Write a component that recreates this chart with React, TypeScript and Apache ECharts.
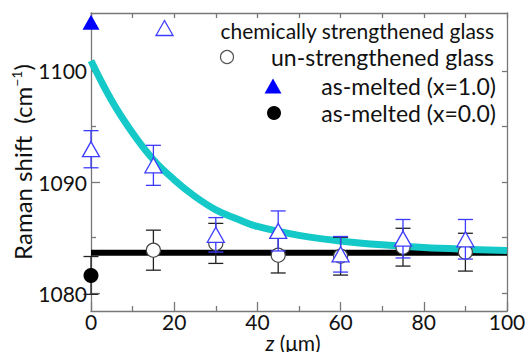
import React, { useEffect, useRef } from "react";
import * as echarts from "echarts";

// chemically strengthened glass (open triangles)
const zStrengthened = [0, 15, 30, 45, 60, 75, 90];
const shiftStrengthened = [1092.95, 1091.5, 1085.25, 1085.6, 1083.5, 1084.9, 1084.85];
const errStrengthened = [1.67, 1.8, 1.55, 1.8, 1.6, 1.73, 1.78];

// un-strengthened glass (open circles)
const zUnstrengthened = [15, 30, 45, 60, 75, 90];
const shiftUnstrengthened = [1083.87, 1084.48, 1083.42, 1083.33, 1084.14, 1083.69];
const errUnstrengthened = [1.8, 1.8, 1.6, 1.7, 1.7, 1.7];

// as-melted points
const zMelted = [0];
const shiftMelted10 = [1104.37];
const shiftMelted00 = [1081.6];
const errMelted00 = [1.7];

// fitted decay curve
const fitZ = [0, 5, 10, 15, 20, 25, 30, 35, 40, 50, 60, 70, 80, 90, 100];
const fitShift = [1100.9, 1097.3, 1094.4, 1092.0, 1090.2, 1088.7, 1087.5, 1086.7, 1086.0, 1085.2, 1084.7, 1084.35, 1084.1, 1083.95, 1083.85];

// flat level for un-strengthened glass
const flatZ = [0, 100];
const flatShift = [1083.63, 1083.63];

const yMajorTicks = [1080, 1090, 1100];
const yMinorTicks = [1085, 1095];

const legendLabels = [
  "chemically strengthened glass",
  "un-strengthened glass",
  "as-melted (x=1.0)",
  "as-melted (x=0.0)",
];

const FONT = "Lato, 'Open Sans', sans-serif";
const BLUE = "#0000ff";
const BLUE_LIGHT = "#3c3cff";
const DARK = "#222222";
const CYAN = "#16c9c9";
const AXIS = "#777777";

const Y_MIN = 1078.4;
const Y_MAX = 1105.2;

function errorBars(xs: number[], ys: number[], errs: number[], color: string, z: number) {
  return {
    type: "custom",
    z,
    clip: false,
    silent: true,
    data: xs.map((x, i) => [x, ys[i], errs[i]]),
    encode: { x: 0, y: 1 },
    renderItem: (_params: any, api: any) => {
      const x = api.value(0);
      const y = api.value(1);
      const e = api.value(2);
      const top = api.coord([x, y + e]);
      const bot = api.coord([x, y - e]);
      const hw = 7.5;
      const style = { stroke: color, lineWidth: 1.3, fill: null };
      return {
        type: "group",
        children: [
          { type: "line", shape: { x1: top[0], y1: top[1], x2: bot[0], y2: bot[1] }, style },
          { type: "line", shape: { x1: top[0] - hw, y1: top[1], x2: top[0] + hw, y2: top[1] }, style },
          { type: "line", shape: { x1: bot[0] - hw, y1: bot[1], x2: bot[0] + hw, y2: bot[1] }, style },
        ],
      };
    },
  };
}

export default function App() {
  const ref = useRef<HTMLDivElement>(null);

  useEffect(() => {
    if (!ref.current) return;
    const chart = echarts.init(ref.current, null, { renderer: "svg" });

    const rowY = [28, 57, 86, 113];
    const textY = [30, 57, 86, 113];
    const textX = [494, 494, 496, 496];
    const textSize = [21, 23, 23, 23];
    const option: any = {
      animation: false,
      backgroundColor: "#ffffff",
      textStyle: { fontFamily: FONT },
      grid: { left: 91, right: 22, top: 13, bottom: 41, containLabel: false, outerBoundsMode: "none" },
      xAxis: [
        {
          type: "value",
          position: "bottom",
          min: 0,
          max: 100,
          interval: 20,
          axisLine: { show: true, lineStyle: { color: AXIS, width: 1.3 } },
          axisTick: { show: true, inside: true, length: 9, lineStyle: { color: AXIS, width: 1.3 } },
          minorTick: { show: true, splitNumber: 2, length: 5, lineStyle: { color: AXIS, width: 1.3 } },
          splitLine: { show: false },
          minorSplitLine: { show: false },
          axisLabel: { fontSize: 21, lineHeight: 17, color: "#111", margin: 2, fontFamily: FONT },
        },
        {
          type: "value",
          position: "top",
          min: 0,
          max: 100,
          interval: 10,
          axisLine: { show: true, lineStyle: { color: AXIS, width: 1.3 } },
          axisTick: { show: true, inside: true, length: 5, lineStyle: { color: AXIS, width: 1.3 } },
          splitLine: { show: false },
          axisLabel: { show: false },
        },
      ],
      yAxis: [
        {
          type: "value",
          position: "left",
          min: Y_MIN,
          max: Y_MAX,
          axisLine: { show: true, lineStyle: { color: AXIS, width: 1.3 } },
          axisTick: {
            show: true,
            inside: true,
            length: 9,
            customValues: yMajorTicks,
            lineStyle: { color: AXIS, width: 1.3 },
          },
          axisLabel: {
            fontSize: 21,
            color: "#111",
            margin: 4,
            fontFamily: FONT,
            customValues: yMajorTicks,
            formatter: (v: number) => String(Math.round(v)),
          },
          splitLine: { show: false },
          name: "Raman shift  (cm{sup|−1})",
          nameLocation: "middle",
          nameGap: 56,
          nameMoveOverlap: false,
          nameRotate: 90,
          nameTextStyle: {
            fontSize: 24,
            color: "#111",
            fontFamily: FONT,
            lineHeight: 26,
            rich: {
              sup: { fontSize: 14, color: "#111", fontFamily: FONT, verticalAlign: "top", lineHeight: 16 },
            },
          },
        },
        {
          type: "value",
          position: "left",
          min: Y_MIN,
          max: Y_MAX,
          axisLine: { show: false },
          axisTick: {
            show: true,
            inside: true,
            length: 5,
            customValues: yMinorTicks,
            lineStyle: { color: AXIS, width: 1.3 },
          },
          axisLabel: { show: false },
          splitLine: { show: false },
        },
        {
          type: "value",
          position: "right",
          min: Y_MIN,
          max: Y_MAX,
          axisLine: { show: true, lineStyle: { color: AXIS, width: 1.3 } },
          axisTick: {
            show: true,
            inside: true,
            length: 5,
            customValues: [...yMajorTicks, ...yMinorTicks],
            lineStyle: { color: AXIS, width: 1.3 },
          },
          axisLabel: { show: false },
          splitLine: { show: false },
        },
      ],
      series: [
        {
          type: "line",
          z: 2,
          data: flatZ.map((x, i) => [x, flatShift[i]]),
          showSymbol: false,
          symbol: "none",
          lineStyle: { color: "#000", width: 6 },
          silent: true,
        },
        {
          type: "line",
          z: 3,
          data: fitZ.map((x, i) => [x, fitShift[i]]),
          smooth: 0.4,
          showSymbol: false,
          symbol: "none",
          lineStyle: { color: CYAN, width: 7 },
          silent: true,
        },
        errorBars(zUnstrengthened, shiftUnstrengthened, errUnstrengthened, DARK, 4),
        errorBars(zMelted, shiftMelted00, errMelted00, DARK, 4),
        {
          type: "scatter",
          z: 5,
          data: zUnstrengthened.map((x, i) => [x, shiftUnstrengthened[i]]),
          symbol: "circle",
          symbolSize: 14,
          itemStyle: { color: "#ffffff", borderColor: "#444", borderWidth: 1.2, opacity: 1 },
        },
        errorBars(zStrengthened, shiftStrengthened, errStrengthened, BLUE_LIGHT, 6),
        {
          type: "scatter",
          z: 7,
          data: zStrengthened.map((x, i) => [x, shiftStrengthened[i]]),
          symbol: "triangle",
          symbolSize: [17, 15],
          itemStyle: { color: "#ffffff", borderColor: BLUE_LIGHT, borderWidth: 1.3, opacity: 1 },
        },
        {
          type: "scatter",
          z: 8,
          clip: false,
          data: zMelted.map((x, i) => [x, shiftMelted10[i]]),
          symbol: "triangle",
          symbolSize: [17, 15],
          itemStyle: { color: BLUE, opacity: 1 },
        },
        {
          type: "scatter",
          z: 8,
          clip: false,
          data: zMelted.map((x, i) => [x, shiftMelted00[i]]),
          symbol: "circle",
          symbolSize: 15,
          itemStyle: { color: "#000", opacity: 1 },
        },
      ],
      graphic: [
        {
          type: "polygon",
          z: 100,
          shape: { points: [[156, rowY[0] + 7.5], [173, rowY[0] + 7.5], [164.5, rowY[0] - 7.5]] },
          style: { fill: "#fff", stroke: BLUE_LIGHT, lineWidth: 1.3 },
        },
        {
          type: "circle",
          z: 100,
          shape: { cx: 227, cy: rowY[1], r: 6.5 },
          style: { fill: "#fff", stroke: "#555", lineWidth: 1.2 },
        },
        {
          type: "polygon",
          z: 100,
          shape: { points: [[264.5, rowY[2] + 7.5], [281.5, rowY[2] + 7.5], [273, rowY[2] - 7.5]] },
          style: { fill: BLUE },
        },
        {
          type: "circle",
          z: 100,
          shape: { cx: 274, cy: rowY[3], r: 7 },
          style: { fill: "#000" },
        },
        ...legendLabels.map((t, i) => ({
          type: "text",
          z: 100,
          x: textX[i],
          y: textY[i],
          style: {
            text: t,
            fontSize: textSize[i],
            fontFamily: FONT,
            fill: "#111",
            align: "right",
            verticalAlign: "middle",
          },
        })),
        {
          type: "text",
          z: 100,
          x: 293,
          y: 342,
          style: {
            text: "{it|z} (μm)",
            fontSize: 21,
            lineHeight: 18,
            fontFamily: FONT,
            fill: "#111",
            align: "center",
            verticalAlign: "middle",
            rich: {
              it: { fontSize: 21, lineHeight: 18, fontStyle: "italic", fontFamily: FONT, fill: "#111" },
            },
          },
        },
      ],
    };

    chart.setOption(option);
    return () => chart.dispose();
  }, []);

  return (
    <div
      ref={ref}
      style={{ position: "absolute", left: 0, top: 0, width: 529, height: 352 }}
    />
  );
}
